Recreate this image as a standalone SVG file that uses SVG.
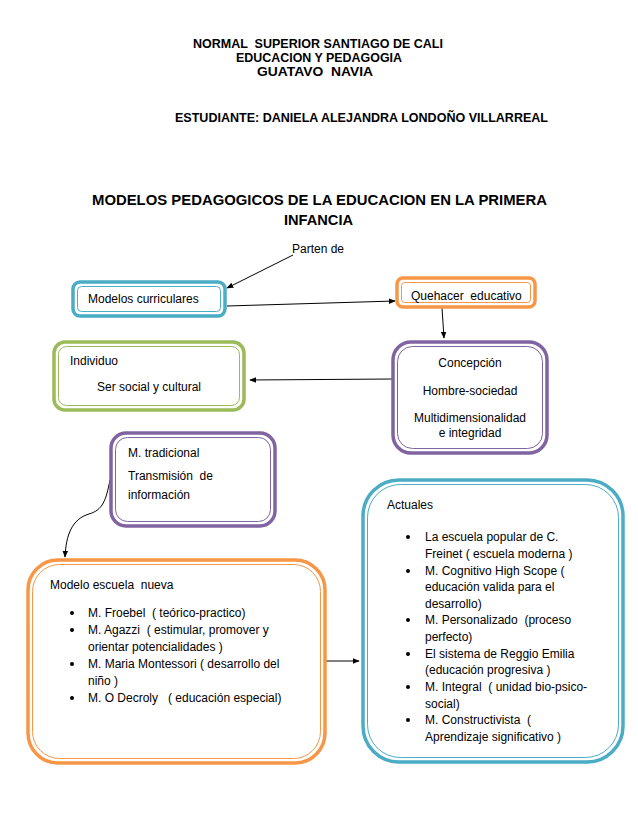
<svg xmlns="http://www.w3.org/2000/svg" width="638" height="826" viewBox="0 0 638 826" xml:space="preserve">
<defs>
<marker id="ah" viewBox="0 0 10 10" refX="9" refY="5" markerWidth="7" markerHeight="7" markerUnits="userSpaceOnUse" orient="auto">
<path d="M0,1 L10,5 L0,9 z" fill="#000"/>
</marker>
<style>
text{font-family:"Liberation Sans",Arial,sans-serif;font-size:12px;fill:#000;white-space:pre}
.h{font-weight:bold}
.t{font-weight:bold;font-size:14px}
.c{text-anchor:middle}
.o{fill:none;stroke-width:3.5}
.i{fill:#fff;stroke-width:1}
.blue{stroke:#4bacc6}
.orange{stroke:#f79646}
.green{stroke:#9bbb59}
.purple{stroke:#8064a2}
.conn{fill:none;stroke:#000;stroke-width:1}
.dot{fill:#000}
</style>
</defs>
<rect width="638" height="826" fill="#fff"/>
<g id="header">
<text class="h c" x="318" y="48" textLength="250" lengthAdjust="spacingAndGlyphs">NORMAL  SUPERIOR SANTIAGO DE CALI</text>
<text class="h c" x="319" y="62" textLength="166" lengthAdjust="spacingAndGlyphs">EDUCACION Y PEDAGOGIA</text>
<text class="h c" x="315" y="76" textLength="116" lengthAdjust="spacingAndGlyphs">GUATAVO  NAVIA</text>
<text class="h" x="175" y="122" textLength="373" lengthAdjust="spacingAndGlyphs">ESTUDIANTE: DANIELA ALEJANDRA LONDOÑO VILLARREAL</text>
</g>
<g id="title">
<text class="t c" x="319.5" y="205" textLength="455" lengthAdjust="spacingAndGlyphs">MODELOS PEDAGOGICOS DE LA EDUCACION EN LA PRIMERA</text>
<text class="t c" x="318.5" y="225" textLength="69" lengthAdjust="spacingAndGlyphs">INFANCIA</text>
</g>
<g id="connectors">
<text x="292" y="253">Parten de</text>
<line class="conn" x1="293" y1="255" x2="227" y2="288" marker-end="url(#ah)"/>
<line class="conn" x1="227" y1="306" x2="395" y2="301" marker-end="url(#ah)"/>
<line class="conn" x1="442" y1="308" x2="444" y2="338" marker-end="url(#ah)"/>
<line class="conn" x1="393" y1="379" x2="250" y2="380" marker-end="url(#ah)"/>
<path class="conn" d="M110,480 C106,500 103,510 89,514 C72,519 66,535 65,557" marker-end="url(#ah)"/>
<line class="conn" x1="325" y1="661" x2="359" y2="661" marker-end="url(#ah)"/>
</g>
<g id="modelos-curriculares">
<rect class="o blue" x="73" y="282" width="152" height="34" rx="7"/>
<rect class="i blue" x="77.5" y="286.5" width="143" height="25" rx="4"/>
<text x="88" y="303">Modelos curriculares</text>
</g>
<g id="quehacer-educativo">
<rect class="o orange" x="397" y="278" width="138" height="29" rx="6"/>
<rect class="i orange" x="401.5" y="282.5" width="129" height="20" rx="3"/>
<text x="411" y="300">Quehacer  educativo</text>
</g>
<g id="individuo">
<rect class="o green" x="54" y="342" width="190" height="68" rx="11"/>
<rect class="i green" x="58.5" y="346.5" width="181" height="59" rx="8"/>
<text x="70" y="365">Individuo</text>
<text x="97" y="391">Ser social y cultural</text>
</g>
<g id="concepcion">
<rect class="o purple" x="393" y="342" width="154" height="111" rx="18"/>
<rect class="i purple" x="397.5" y="346.5" width="145" height="102" rx="15"/>
<text class="c" x="470" y="367">Concepción</text>
<text class="c" x="470" y="395">Hombre-sociedad</text>
<text class="c" x="470" y="422">Multidimensionalidad</text>
<text class="c" x="470" y="437">e integridad</text>
</g>
<g id="m-tradicional">
<rect class="o purple" x="111" y="433" width="164" height="93" rx="15"/>
<rect class="i purple" x="115.5" y="437.5" width="155" height="84" rx="12"/>
<text x="128" y="457">M. tradicional</text>
<text x="128" y="480">Transmisión  de</text>
<text x="128" y="499">información</text>
</g>
<g id="escuela-nueva">
<rect class="o orange" x="28" y="560" width="297" height="203" rx="30"/>
<rect class="i orange" x="32.5" y="564.5" width="288" height="194" rx="27"/>
<text x="50" y="589">Modelo escuela  nueva</text>
<circle class="dot" cx="72" cy="613" r="2"/>
<text x="88" y="617">M. Froebel  ( teórico-practico)</text>
<circle class="dot" cx="72" cy="630" r="2"/>
<text x="88" y="634">M. Agazzi  ( estimular, promover y</text>
<text x="88" y="651">orientar potencialidades )</text>
<circle class="dot" cx="72" cy="664" r="2"/>
<text x="88" y="668">M. Maria Montessori ( desarrollo del</text>
<text x="88" y="685">niño )</text>
<circle class="dot" cx="72" cy="698" r="2"/>
<text x="88" y="702">M. O Decroly   ( educación especial)</text>
</g>
<g id="actuales">
<rect class="o blue" x="363" y="480" width="260" height="282" rx="36"/>
<rect class="i blue" x="367.5" y="484.5" width="251" height="273" rx="33"/>
<text x="387" y="509">Actuales</text>
<circle class="dot" cx="408" cy="537" r="2"/>
<text x="425" y="541">La escuela popular de C.</text>
<text x="425" y="558">Freinet ( escuela moderna )</text>
<circle class="dot" cx="408" cy="571" r="2"/>
<text x="425" y="575">M. Cognitivo High Scope (</text>
<text x="425" y="591">educación valida para el</text>
<text x="425" y="608">desarrollo)</text>
<circle class="dot" cx="408" cy="620" r="2"/>
<text x="425" y="624">M. Personalizado  (proceso</text>
<text x="425" y="641">perfecto)</text>
<circle class="dot" cx="408" cy="654" r="2"/>
<text x="425" y="658">El sistema de Reggio Emilia</text>
<text x="425" y="674">(educación progresiva )</text>
<circle class="dot" cx="408" cy="687" r="2"/>
<text x="425" y="691">M. Integral  ( unidad bio-psico-</text>
<text x="425" y="708">social)</text>
<circle class="dot" cx="408" cy="720" r="2"/>
<text x="425" y="724">M. Constructivista  (</text>
<text x="425" y="741">Aprendizaje significativo )</text>
</g>
</svg>
